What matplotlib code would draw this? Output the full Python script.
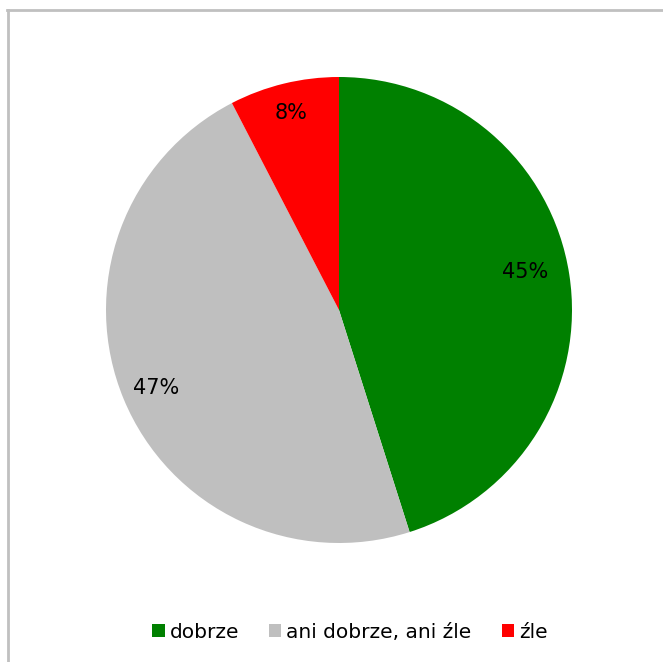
import numpy as np
import matplotlib.pyplot as plt
from matplotlib.lines import Line2D

# dane
labels = ["dobrze", "ani dobrze, ani źle", "źle"]
values = [45.1, 47.3, 7.6]
colors = ["#008000", "#bfbfbf", "#ff0000"]
# położenie etykiet (odległość od środka, przesunięcie w pionie) - jak w Excelu "best fit"
label_dist = [0.81, 0.85, 0.87]
label_dy = [0.04, -0.01, 0.0]

W, H = 663, 662
fig = plt.figure(figsize=(W / 100, H / 100), dpi=100)

# ramka (tylko góra i lewa strona widoczne)
fig.add_artist(Line2D([7 / W, 1.0], [1 - 10 / H, 1 - 10 / H], color="#c0c0c0", lw=2))
fig.add_artist(Line2D([8 / W, 8 / W], [0.0, 1 - 10 / H], color="#c0c0c0", lw=2))

cx, cy, r = 339, 310, 233
ax = fig.add_axes([(cx - r) / W, (H - cy - r) / H, 2 * r / W, 2 * r / H])

wedges, texts, autotexts = ax.pie(
    values,
    colors=colors,
    startangle=90,
    counterclock=False,
    autopct="%1.0f%%",
    pctdistance=0.85,
    wedgeprops=dict(linewidth=0),
    textprops=dict(fontsize=15, color="black"),
)
for w, t, d, dy in zip(wedges, autotexts, label_dist, label_dy):
    ang = np.deg2rad((w.theta1 + w.theta2) / 2)
    t.set_position((d * np.cos(ang), d * np.sin(ang) + dy))

ax.set_xlim(-1, 1)
ax.set_ylim(-1, 1)
ax.set_aspect("equal")
ax.axis("off")

fig.legend(
    wedges, labels,
    loc="center", bbox_to_anchor=(350 / W, 1 - 632 / H),
    ncol=3, frameon=False, fontsize=14.5,
    handlelength=0.6, handleheight=0.6, handletextpad=0.25, columnspacing=1.5,
)

plt.savefig("out.png", dpi=100)
